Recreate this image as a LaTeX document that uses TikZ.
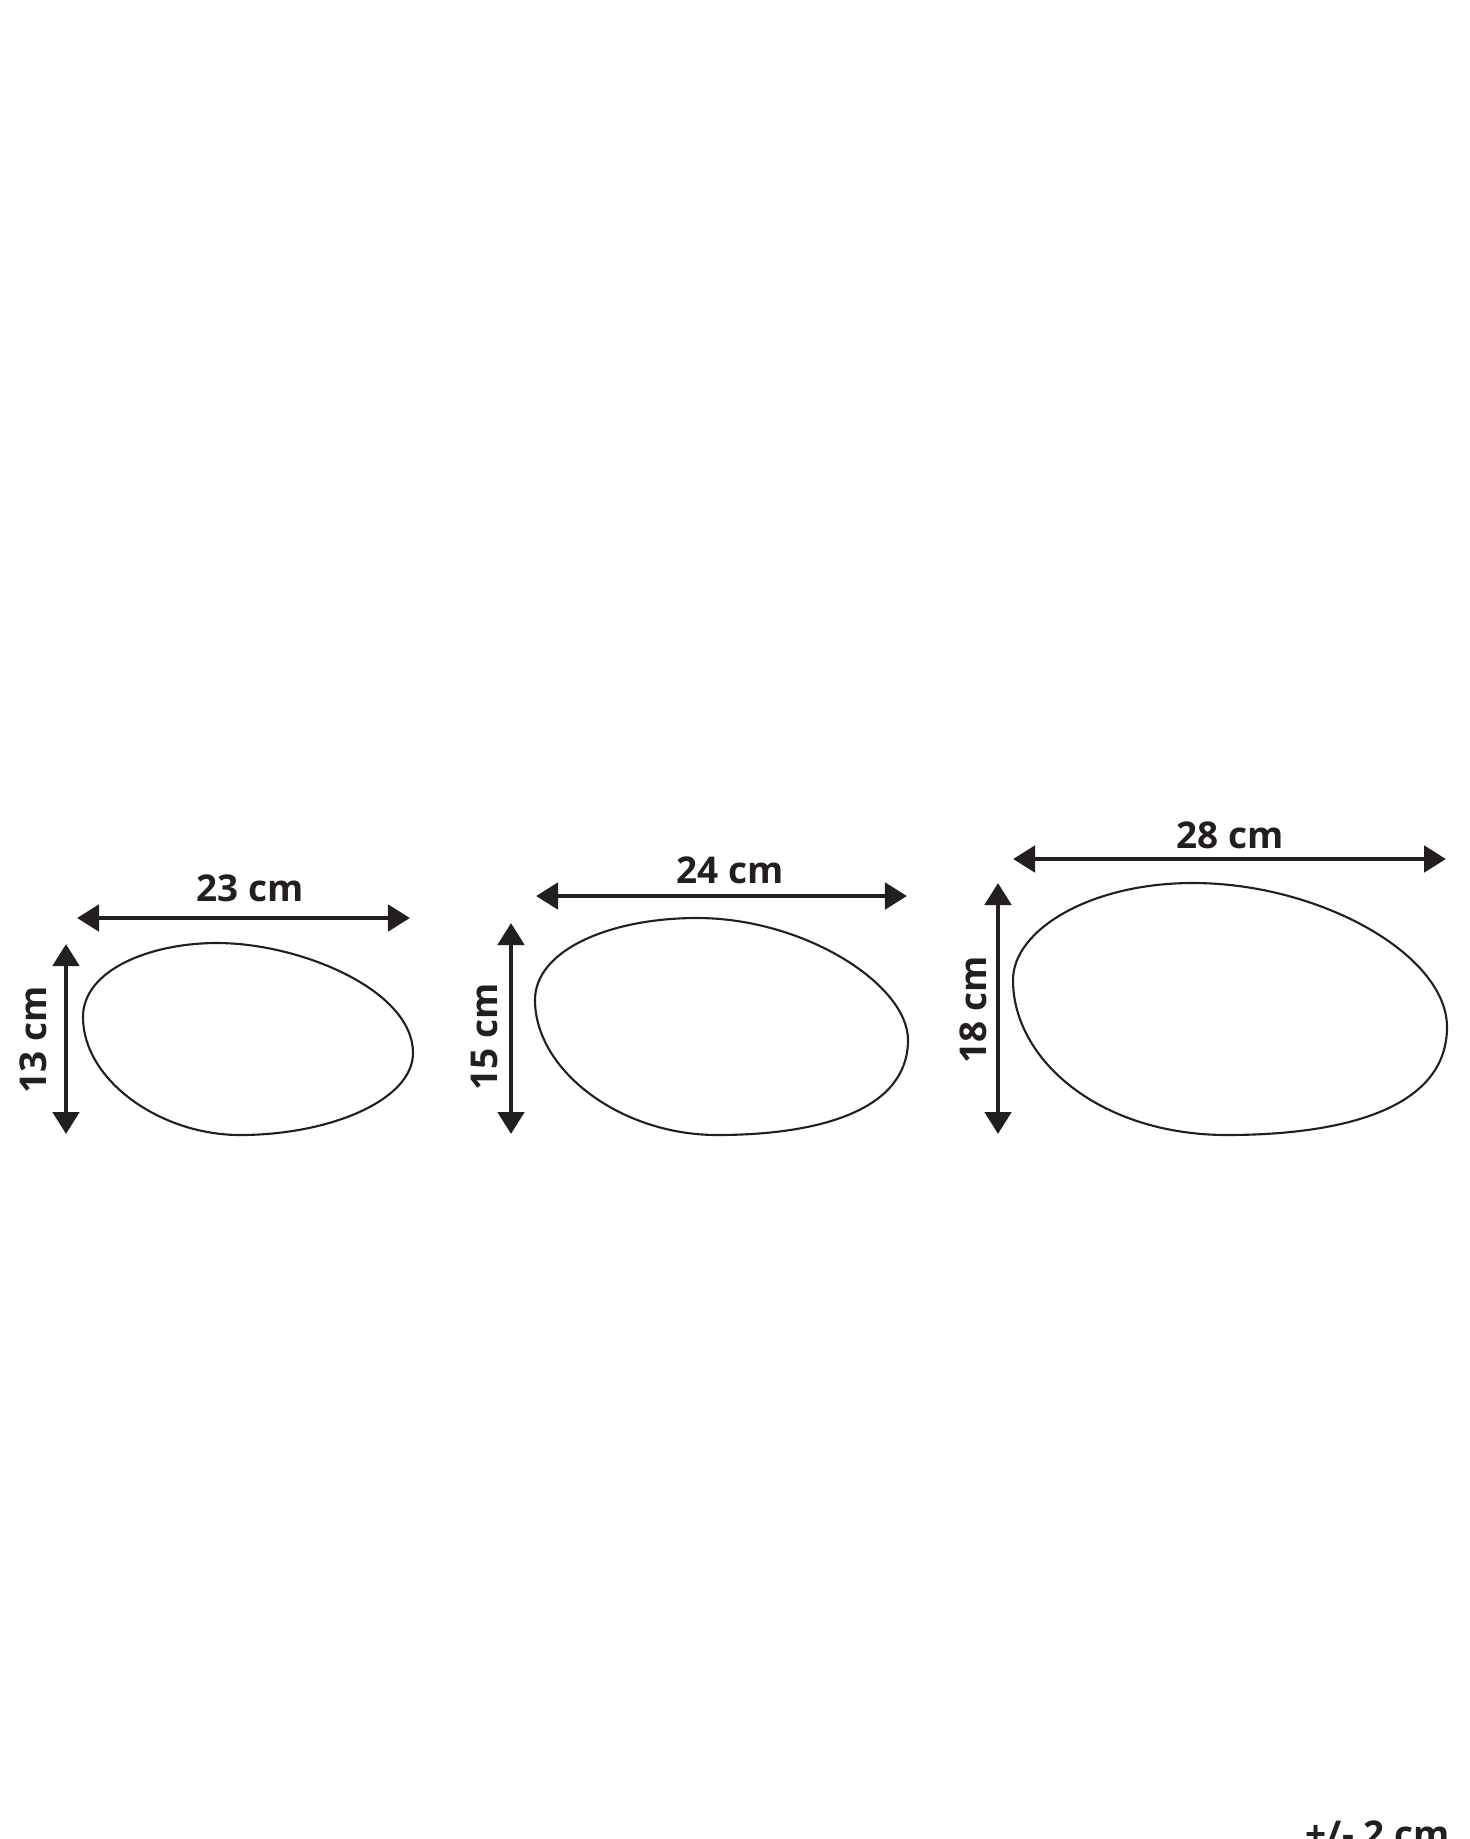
\documentclass[tikz,border=0pt]{standalone}
\usepackage{fontspec}
\setmainfont{Open Sans}
\usetikzlibrary{arrows.meta}
\definecolor{ink}{HTML}{231F20}

\begin{document}
\begin{tikzpicture}[x=0.01cm, y=-0.01cm,
    dim/.style={{Triangle[length=0.22cm,width=0.26cm]}-{Triangle[length=0.22cm,width=0.26cm]}, line width=1.4pt, ink},
    stone/.style={line width=0.6pt, ink},
    size/.style={font=\bfseries\fontsize{10.5}{12}\selectfont, text=ink, inner sep=0pt}]
    \useasboundingbox (0,0) rectangle (1470,1839);

    % Define points for the dimension arrows
    \coordinate (W1a) at (77,918);   \coordinate (W1b) at (410,918);
    \coordinate (H1a) at (66,944);   \coordinate (H1b) at (66,1134);
    \coordinate (W2a) at (536,896);  \coordinate (W2b) at (907,896);
    \coordinate (H2a) at (511,923);  \coordinate (H2b) at (511,1134);
    \coordinate (W3a) at (1013,859); \coordinate (W3b) at (1446,859);
    \coordinate (H3a) at (998,883);  \coordinate (H3b) at (998,1134);

    % Small stone (top, right, bottom, left)
    \draw[stone] (217,943) .. controls (300,943) and (413,990) .. (413,1053)
        .. controls (413,1100) and (330,1135) .. (240,1135)
        .. controls (160,1135) and (83,1080) .. (83,1017)
        .. controls (83,970) and (150,943) .. cycle;
    % Medium stone
    \draw[stone] (697,918) .. controls (805,918) and (908,985) .. (908,1040)
        .. controls (908,1110) and (820,1135) .. (717,1135)
        .. controls (620,1135) and (535,1070) .. (535,1000)
        .. controls (535,950) and (610,918) .. cycle;
    % Large stone
    \draw[stone] (1193,883) .. controls (1320,883) and (1447,955) .. (1447,1027)
        .. controls (1447,1110) and (1340,1135) .. (1227,1135)
        .. controls (1100,1135) and (1013,1060) .. (1013,980)
        .. controls (1013,930) and (1090,883) .. cycle;

    % Draw dimension arrows
    \draw[dim] (W1a) -- (W1b);
    \draw[dim] (H1a) -- (H1b);
    \draw[dim] (W2a) -- (W2b);
    \draw[dim] (H2a) -- (H2b);
    \draw[dim] (W3a) -- (W3b);
    \draw[dim] (H3a) -- (H3b);

    % Label sizes
    \node[size] (w1) at (250,888) {23 cm};
    \node[size, rotate=90] (h1) at (33,1040) {13 cm};
    \node[size] (w2) at (730,870) {24 cm};
    \node[size, rotate=90] (h2) at (484,1037) {15 cm};
    \node[size] (w3) at (1230,835) {28 cm};
    \node[size, rotate=90] (h3) at (973,1010) {18 cm};

    % Tolerance note, cut by the page edge
    \node[size, anchor=base west] (tol) at (1305,1847) {+/- 2 cm};
\end{tikzpicture}
\end{document}
